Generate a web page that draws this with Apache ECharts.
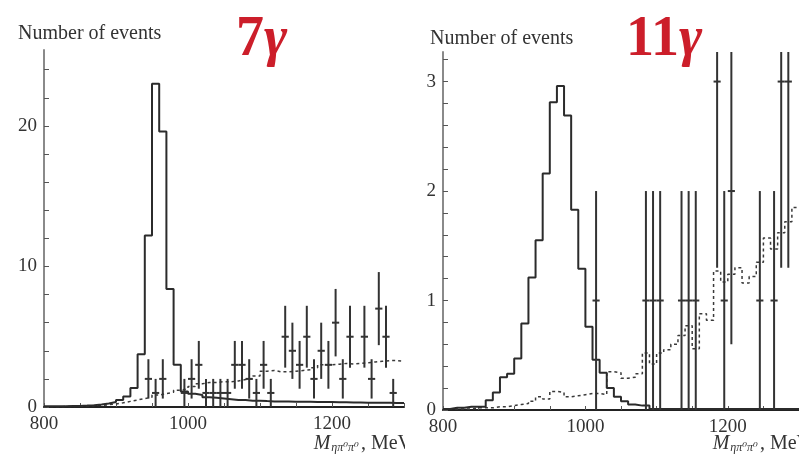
<!DOCTYPE html>
<html>
<head>
<meta charset="utf-8">
<script src="https://cdn.jsdelivr.net/npm/echarts@6/dist/echarts.min.js"></script>
<style>
  html, body { margin: 0; padding: 0; background: #fff; }
  #chart { width: 799px; height: 454px; }
</style>
</head>
<body>
<div id="chart"></div>
<script>
// Invariant-mass spectra, 10 MeV bins from 800 to 1300 MeV.
const binStart = 800;
const binWidth = 10;

// 7γ: simulated signal (solid), simulated background (dashed), data points
const signal7 = [
  0.05, 0.05, 0.06, 0.07, 0.08, 0.1, 0.13, 0.18, 0.25, 0.35,
  0.5, 0.75, 1.35, 3.75, 12.2, 23.0, 19.6, 8.4, 3.0, 1.1,
  0.95, 0.85, 0.7, 0.65, 0.6, 0.55, 0.5, 0.5, 0.45, 0.45,
  0.42, 0.4, 0.4, 0.4, 0.38, 0.38, 0.37, 0.36, 0.35, 0.35,
  0.34, 0.33, 0.32, 0.32, 0.31, 0.3, 0.3, 0.3, 0.28, 0.28
];
const background7 = [
  0.02, 0.02, 0.03, 0.04, 0.05, 0.07, 0.1, 0.12, 0.16, 0.22,
  0.3, 0.4, 0.5, 0.6, 0.7, 0.85, 0.95, 1.05, 1.2, 1.3,
  1.45, 1.65, 1.75, 1.75, 1.8, 1.8, 1.85, 1.95, 2.0, 2.2,
  2.55, 2.6, 2.5, 2.5, 2.55, 2.6, 2.65, 2.8, 3.0, 3.0,
  3.05, 3.1, 3.05, 3.1, 3.15, 3.2, 3.25, 3.3, 3.3, 3.25
];
const dataMass7 = [945, 955, 965, 995, 1005, 1015, 1025, 1035, 1045, 1055,
  1065, 1075, 1085, 1095, 1105, 1115, 1135, 1145, 1155, 1165,
  1175, 1185, 1195, 1205, 1215, 1225, 1245, 1255, 1265, 1275, 1285];
const dataCount7 = [2, 1, 2, 1, 2, 3, 1, 1, 1, 1,
  3, 3, 2, 1, 3, 1, 5, 4, 3, 5,
  2, 4, 3, 6, 2, 5, 5, 2, 7, 5, 1];
const dataError7 = [1.4, 1, 1.4, 1, 1.4, 1.7, 1, 1, 1, 1,
  1.7, 1.7, 1.4, 1, 1.7, 1, 2.2, 2, 1.7, 2.2,
  1.4, 2, 1.7, 2.4, 1.4, 2.2, 2.2, 1.4, 2.6, 2.2, 1];

// 11γ
const signal11 = [
  0.01, 0.02, 0.02, 0.03, 0.03, 0.03, 0.09, 0.16, 0.3, 0.33,
  0.47, 0.79, 1.21, 1.55, 2.16, 2.81, 2.96, 2.69, 1.83, 1.29,
  0.76, 0.46, 0.34, 0.2, 0.12, 0.08, 0.05, 0.04, 0.04, 0.01,
  0.01, 0.01, 0.01, 0.01, 0.01, 0.01, 0.01, 0.01, 0.01, 0.01,
  0.01, 0.01, 0.01, 0.01, 0.01, 0.01, 0.01, 0.01, 0.01, 0.01
];
const background11 = [
  0.01, 0.01, 0.01, 0.01, 0.02, 0.02, 0.02, 0.03, 0.03, 0.04,
  0.05, 0.06, 0.08, 0.12, 0.1, 0.17, 0.16, 0.12, 0.13, 0.14,
  0.15, 0.15, 0.14, 0.35, 0.34, 0.29, 0.3, 0.33, 0.52, 0.42,
  0.52, 0.55, 0.6, 0.68, 0.77, 0.56, 0.88, 0.82, 1.27, 1.17,
  1.24, 1.3, 1.16, 1.22, 1.35, 1.57, 1.47, 1.62, 1.72, 1.85
];
const dataMass11 = [1015, 1085, 1095, 1105, 1135, 1145, 1155, 1185, 1195, 1205, 1245, 1265, 1275, 1285];
const dataCount11 = [1, 1, 1, 1, 1, 1, 1, 3, 1, 2, 1, 1, 3, 3];
const dataError11 = [1, 1, 1, 1, 1, 1, 1, 1.7, 1, 1.4, 1, 1, 1.7, 1.7];

// Axis ticks and labels
const massLabels = [800, 1000, 1200];
const massTicks = [800, 850, 900, 950, 1000, 1050, 1100, 1150, 1200, 1250, 1300];
const countLabels7 = [0, 10, 20];
const countTicks7 = [0, 2, 4, 6, 8, 10, 12, 14, 16, 18, 20, 22, 24];
const countLabels11 = [0, 1, 2, 3];
const countTicks11 = [0, 0.2, 0.4, 0.6, 0.8, 1, 1.2, 1.4, 1.6, 1.8, 2, 2.2, 2.4, 2.6, 2.8, 3, 3.2];

const SERIF = '"Liberation Serif", "DejaVu Serif", serif';
const INK = '#2b2b2b';

function stepData(values) {
  const pts = values.map((v, i) => [binStart + i * binWidth, v]);
  pts.push([binStart + values.length * binWidth, values[values.length - 1]]);
  return pts;
}

function histSeries(values, idx, dashed) {
  return {
    type: 'line',
    xAxisIndex: idx, yAxisIndex: idx,
    step: 'end',
    data: stepData(values),
    showSymbol: false,
    silent: true,
    lineStyle: dashed
      ? { color: '#3a3a3a', width: 1.5, type: [3, 3] }
      : { color: INK, width: 2 },
    z: dashed ? 3 : 4
  };
}

function pointsSeries(mass, count, err, idx) {
  return {
    type: 'custom',
    xAxisIndex: idx, yAxisIndex: idx,
    clip: true,
    data: mass.map((m, i) => [m, count[i], err[i]]),
    renderItem(params, api) {
      const x = api.value(0), v = api.value(1), e = api.value(2);
      const top = api.coord([x, v + e]);
      const bot = api.coord([x, Math.max(v - e, 0)]);
      const l = api.coord([x - 5, v]);
      const r = api.coord([x + 5, v]);
      const style = { stroke: '#333', lineWidth: 2 };
      return {
        type: 'group',
        children: [
          { type: 'line', shape: { x1: top[0], y1: top[1], x2: bot[0], y2: bot[1] }, style },
          { type: 'line', shape: { x1: l[0], y1: l[1], x2: r[0], y2: r[1] }, style }
        ]
      };
    },
    z: 5
  };
}

function massAxis(idx) {
  return {
    type: 'value', gridIndex: idx,
    min: 800, max: 1300, interval: 50,
    axisLine: { show: true, onZero: false, lineStyle: { color: '#222', width: 2 } },
    axisTick: { show: true, inside: true, length: 4, customValues: massTicks, lineStyle: { color: '#555' } },
    axisLabel: { customValues: massLabels, formatter: v => String(v), fontFamily: SERIF, fontSize: 19, color: '#333', margin: 8 },
    splitLine: { show: false }
  };
}

function countAxis(idx, max, ticks, labels) {
  return {
    type: 'value', gridIndex: idx,
    min: 0, max: max,
    axisLine: { show: true, lineStyle: { color: '#8a8a8a', width: 2 } },
    axisTick: { show: true, inside: true, length: 5, customValues: ticks, lineStyle: { color: '#555' } },
    axisLabel: { customValues: labels, formatter: v => String(v), fontFamily: SERIF, fontSize: 19, color: '#333', margin: 7 },
    splitLine: { show: false }
  };
}

function massTitle(right, top) {
  return {
    type: 'text', right: right, top: top, z: 10,
    style: {
      text: '{i|M}{s|ηπ⁰π⁰}{n|, MeV}',
      fill: '#333',
      rich: {
        i: { fontFamily: SERIF, fontStyle: 'italic', fontSize: 20, fill: '#333' },
        s: { fontFamily: SERIF, fontStyle: 'italic', fontSize: 12, fill: '#333', padding: [8, 2, 0, 1] },
        n: { fontFamily: SERIF, fontSize: 20, fill: '#333' }
      }
    }
  };
}

function redTitle(left, count) {
  return {
    type: 'text', left: left, top: 13, z: 10,
    style: {
      text: '{n|' + count + '}{g|γ}',
      rich: {
        n: { fontFamily: SERIF, fontWeight: 'bold', fontSize: 56, fill: '#cc1e2a' },
        g: { fontFamily: SERIF, fontWeight: 'bold', fontStyle: 'italic', fontSize: 56, fill: '#cc1e2a' }
      }
    }
  };
}

const chart = echarts.init(document.getElementById('chart'), null, { renderer: 'canvas' });
chart.setOption({
  animation: false,
  backgroundColor: '#fff',
  grid: [
    { left: 44, top: 50, width: 360, height: 357 },
    { left: 443, top: 52, width: 360, height: 358 }
  ],
  xAxis: [massAxis(0), massAxis(1)],
  yAxis: [
    countAxis(0, 25.4, countTicks7, countLabels7),
    countAxis(1, 3.27, countTicks11, countLabels11)
  ],
  series: [
    histSeries(background7, 0, true),
    histSeries(signal7, 0, false),
    pointsSeries(dataMass7, dataCount7, dataError7, 0),
    histSeries(background11, 1, true),
    histSeries(signal11, 1, false),
    pointsSeries(dataMass11, dataCount11, dataError11, 1)
  ],
  graphic: [
    { type: 'text', left: 18, top: 24, style: { text: 'Number of events', fontFamily: SERIF, fontSize: 20, fill: '#333' } },
    { type: 'text', left: 430, top: 29, style: { text: 'Number of events', fontFamily: SERIF, fontSize: 20, fill: '#333' } },
    redTitle(236, '7'),
    redTitle(626, '11'),
    massTitle(387, 434),
    { type: 'rect', left: 405, top: 428, shape: { width: 20, height: 26 }, style: { fill: '#fff' }, z: 11 },
    massTitle(-12, 434)
  ]
});
</script>
</body>
</html>
